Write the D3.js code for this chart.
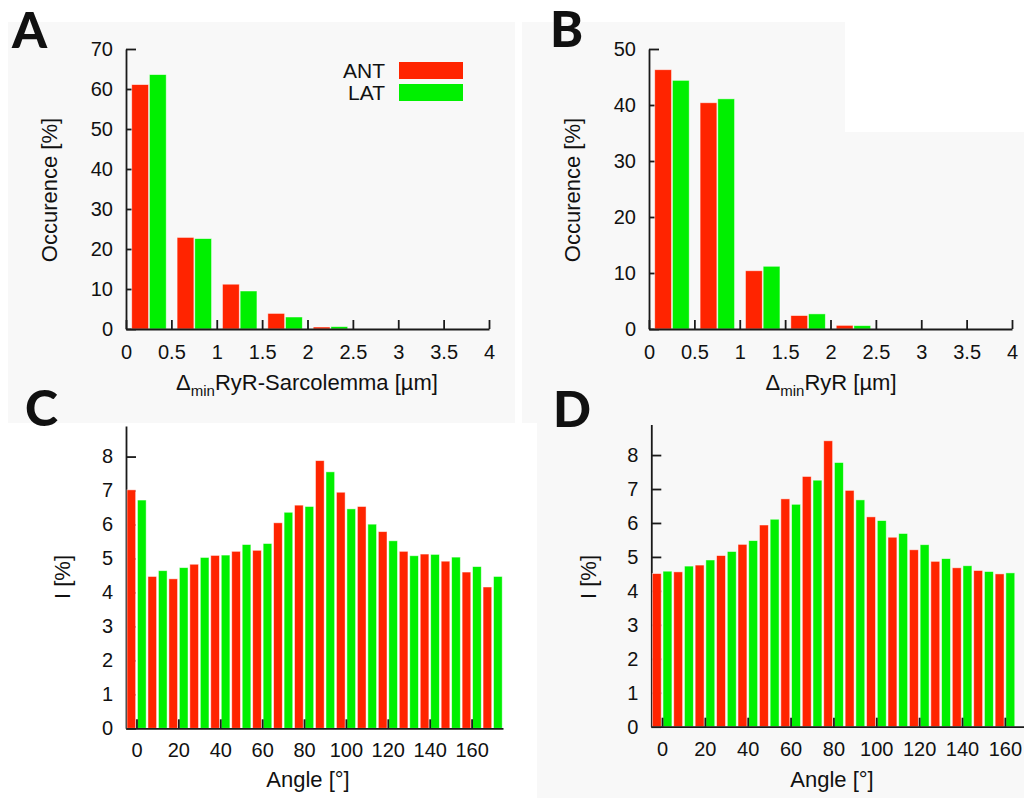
<!DOCTYPE html>
<html>
<head>
<meta charset="utf-8">
<script src="https://cdn.jsdelivr.net/npm/d3@7"></script>
<style>
  body { margin: 0; background: #fff; }
  svg { display: block; }
  text { font-family: "Liberation Sans", Arial, sans-serif; fill: #111; }
</style>
</head>
<body>
<svg width="1024" height="798"></svg>
<script>
// histogram bins (left edge, µm)
var distBins = [0, 0.5, 1, 1.5, 2, 2.5, 3, 3.5];
var seriesNames = ["ANT", "LAT"];

// panel A : RyR - sarcolemma distance
var antA = [61.1, 22.9, 11.2, 3.9, 0.5, 0, 0, 0];
var latA = [63.6, 22.6, 9.5, 3.0, 0.6, 0, 0, 0];

// panel B : RyR - RyR distance
var antB = [46.3, 40.4, 10.4, 2.4, 0.65, 0, 0, 0];
var latB = [44.4, 41.1, 11.2, 2.7, 0.6, 0, 0, 0];

// panel C : angle histogram (bin centres, deg)
var anglesC = [-2.5, 2.5, 7.5, 12.5, 17.5, 22.5, 27.5, 32.5, 37.5, 42.5, 47.5, 52.5,
  57.5, 62.5, 67.5, 72.5, 77.5, 82.5, 87.5, 92.5, 97.5, 102.5, 107.5, 112.5,
  117.5, 122.5, 127.5, 132.5, 137.5, 142.5, 147.5, 152.5, 157.5, 162.5, 167.5, 172.5];
var valuesC = [7.02, 6.72, 4.47, 4.64, 4.40, 4.73, 4.83, 5.03, 5.09, 5.10, 5.21, 5.41,
  5.24, 5.44, 6.05, 6.36, 6.57, 6.53, 7.88, 7.55, 6.95, 6.46, 6.53, 6.01,
  5.79, 5.52, 5.21, 5.08, 5.13, 5.12, 4.92, 5.04, 4.60, 4.76, 4.16, 4.47];

// panel D
var anglesD = [-2.5, 2.5, 7.5, 12.5, 17.5, 22.5, 27.5, 32.5, 37.5, 42.5, 47.5, 52.5,
  57.5, 62.5, 67.5, 72.5, 77.5, 82.5, 87.5, 92.5, 97.5, 102.5, 107.5, 112.5,
  117.5, 122.5, 127.5, 132.5, 137.5, 142.5, 147.5, 152.5, 157.5, 162.5];
var valuesD = [4.51, 4.58, 4.56, 4.73, 4.76, 4.91, 5.04, 5.16, 5.37, 5.48, 5.94, 6.11,
  6.71, 6.55, 7.37, 7.26, 8.42, 7.78, 6.96, 6.68, 6.18, 6.07, 5.58, 5.69,
  5.21, 5.36, 4.87, 4.95, 4.68, 4.74, 4.60, 4.57, 4.50, 4.53];

var distTicks = [0, 0.5, 1, 1.5, 2, 2.5, 3, 3.5, 4];
var angleTicks = [0, 20, 40, 60, 80, 100, 120, 140, 160];

var RED = "#ff2400", GREEN = "#00f000";
var color = d3.scaleOrdinal().domain(seriesNames).range([RED, GREEN]);

var svg = d3.select("svg");

// light grey panel backgrounds of the original figure
var bg = [[8, 22, 507, 401], [522, 22, 323, 110], [522, 132, 502, 291], [537, 423, 487, 375]];
svg.selectAll("rect.bg").data(bg).enter().append("rect")
    .attr("class", "bg")
    .attr("x", function (d) { return d[0]; })
    .attr("y", function (d) { return d[1]; })
    .attr("width", function (d) { return d[2]; })
    .attr("height", function (d) { return d[3]; })
    .attr("fill", "#f8f8f8");

function styleAxis(g) {
    g.attr("font-family", null).attr("font-size", null);
    g.selectAll("path, line").attr("stroke", "#1a1a1a").attr("stroke-width", 1.8);
    g.selectAll("text").attr("font-size", 20).attr("fill", "#111");
}

// distance histograms (A, B)
function distPanel(xr, yr, ymax, yStep, ant, lat) {
    var x = d3.scaleLinear().domain([0, 4]).range(xr);
    var y = d3.scaleLinear().domain([0, ymax]).range(yr);
    var sub = d3.scaleBand().domain(seriesNames)
        .range([x(0.063) - x(0), x(0.443) - x(0)]).paddingInner(0.05);

    var gy = svg.append("g")
        .attr("transform", "translate(" + xr[0] + ",0)")
        .call(d3.axisLeft(y).tickValues(d3.range(0, ymax + 1, yStep))
            .tickSize(-10).tickSizeOuter(0).tickPadding(13));
    styleAxis(gy);

    var rows = [];
    distBins.forEach(function (b, i) {
        rows.push({ bin: b, name: "ANT", v: ant[i] });
        rows.push({ bin: b, name: "LAT", v: lat[i] });
    });
    svg.append("g").selectAll("rect").data(rows.filter(function (d) { return d.v > 0; }))
        .enter().append("rect")
        .attr("x", function (d) { return x(d.bin) + sub(d.name); })
        .attr("y", function (d) { return y(d.v); })
        .attr("width", sub.bandwidth())
        .attr("height", function (d) { return y(0) - y(d.v); })
        .attr("fill", function (d) { return color(d.name); })
        .attr("stroke", "rgba(255,255,255,0.6)").attr("stroke-width", 0.8);

    var gx = svg.append("g")
        .attr("transform", "translate(0," + yr[0] + ")")
        .call(d3.axisBottom(x).tickValues(distTicks).tickFormat(function (d) { return d; })
            .tickSize(-9).tickSizeOuter(0).tickPadding(16));
    styleAxis(gx);
    return x;
}

// angle histograms (C, D)
function anglePanel(xr, yr, angles, values) {
    var x = d3.scaleLinear().domain([-5, 175]).range(xr);
    var y = d3.scaleLinear().domain([0, 8.9]).range(yr);
    var bw = x(5) - x(0);

    var gy = svg.append("g")
        .attr("transform", "translate(" + xr[0] + ",0)")
        .call(d3.axisLeft(y).tickValues(d3.range(0, 9))
            .tickSize(-10).tickSizeOuter(0).tickPadding(13));
    styleAxis(gy);

    svg.append("g").selectAll("rect").data(values).enter().append("rect")
        .attr("x", function (d, i) { return x(angles[i] - 2.5) + 1; })
        .attr("y", function (d) { return y(d); })
        .attr("width", bw - 1.8)
        .attr("height", function (d) { return y(0) - y(d); })
        .attr("fill", function (d, i) { return i % 2 === 0 ? RED : GREEN; })
        .attr("stroke", "rgba(255,255,255,0.6)").attr("stroke-width", 0.8);

    var gx = svg.append("g")
        .attr("transform", "translate(0," + yr[0] + ")")
        .call(d3.axisBottom(x).tickValues(angleTicks)
            .tickSize(-9).tickSizeOuter(0).tickPadding(15));
    styleAxis(gx);
}

distPanel([126, 489], [329, 49], 70, 10, antA, latA);
distPanel([649, 1012], [329, 49], 50, 10, antB, latB);
anglePanel([126, 503], [728.3, 426], anglesC, valuesC);
anglePanel([651.3, 1037], [726.7, 424.5], anglesD, valuesD);

// axis titles
function yTitle(cx, cy, label) {
    svg.append("text")
        .attr("transform", "translate(" + cx + "," + cy + ") rotate(-90)")
        .attr("text-anchor", "middle").attr("dy", "0.35em")
        .attr("font-size", 22).text(label);
}
yTitle(49, 190, "Occurence [%]");
yTitle(572, 190, "Occurence [%]");
yTitle(62, 577, "I [%]");
yTitle(588, 577, "I [%]");

function deltaTitle(cx, by, rest) {
    var t = svg.append("text").attr("x", cx).attr("y", by)
        .attr("text-anchor", "middle").attr("font-size", 22);
    t.append("tspan").text("\u0394");
    t.append("tspan").attr("font-size", 15).attr("dy", 6).text("min");
    t.append("tspan").attr("dy", -6).text(rest);
}
deltaTitle(307, 390, "RyR-Sarcolemma [\u00b5m]");
deltaTitle(831, 390, "RyR [\u00b5m]");

svg.append("text").attr("x", 308).attr("y", 787).attr("text-anchor", "middle")
    .attr("font-size", 22).text("Angle [\u00b0]");
svg.append("text").attr("x", 832).attr("y", 787).attr("text-anchor", "middle")
    .attr("font-size", 22).text("Angle [\u00b0]");

// legend in panel A
var legend = svg.append("g").selectAll("g").data(seriesNames).enter().append("g")
    .attr("transform", function (d, i) { return "translate(0," + (70.5 + i * 22) + ")"; });
legend.append("text").attr("x", 385).attr("dy", "0.36em").attr("text-anchor", "end")
    .attr("font-size", 21).text(function (d) { return d; });
legend.append("rect").attr("x", 399).attr("y", -8.5).attr("width", 64).attr("height", 17)
    .attr("fill", function (d) { return color(d); });

// panel letters
var letters = [["A", 12, 48], ["B", 550, 47], ["C", 25, 426], ["D", 553, 427]];
svg.selectAll("text.letter").data(letters).enter().append("text")
    .attr("class", "letter")
    .attr("x", function (d) { return d[1]; })
    .attr("y", function (d) { return d[2]; })
    .attr("font-family", "Lato, 'Open Sans', sans-serif")
    .attr("font-weight", 900).attr("font-size", 50)
    .style("font-family", "Lato, 'Open Sans', sans-serif")
    .text(function (d) { return d[0]; });
</script>
</body>
</html>
